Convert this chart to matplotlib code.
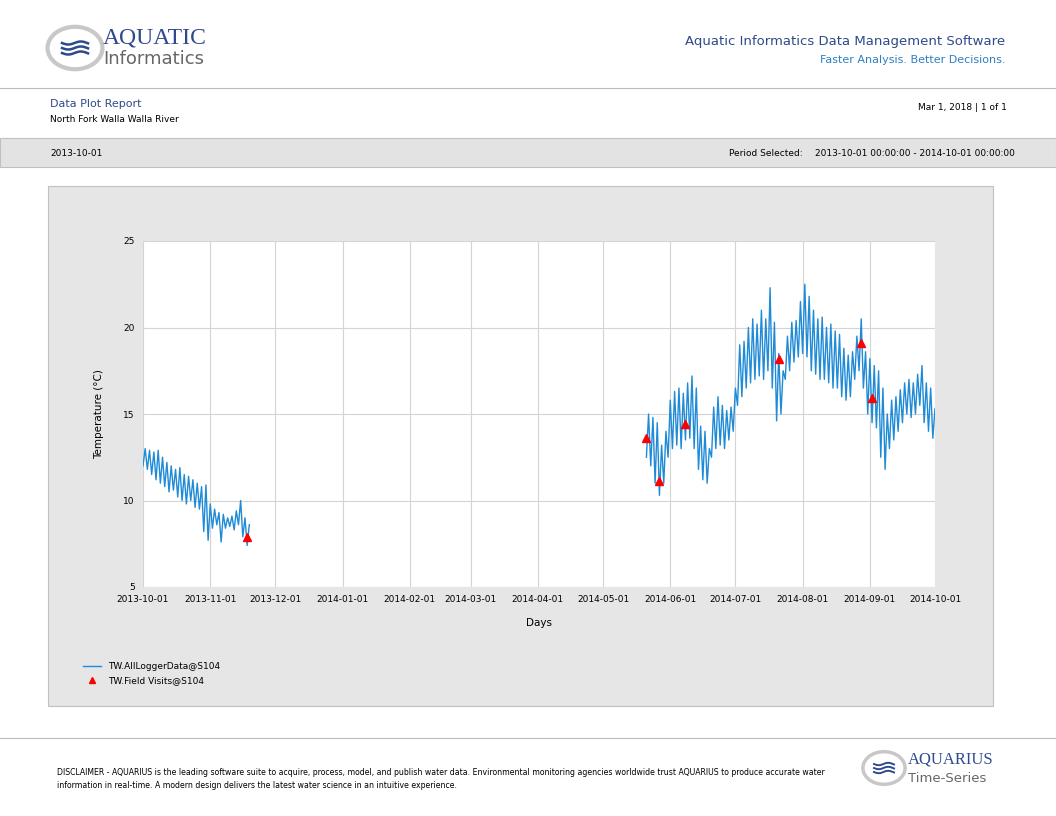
import numpy as np
import matplotlib
matplotlib.use('Agg')
import matplotlib.pyplot as plt
import matplotlib.dates as mdates
from matplotlib.patches import Rectangle, Circle
from datetime import datetime, timedelta

# logger data, one low/high pair every 2 days
start1 = datetime(2013, 10, 1)
highs1 = [13.0, 12.9, 12.8, 12.9, 12.5, 12.2, 12.0, 11.8, 11.9, 11.5, 11.4, 11.2, 11.0,
          10.8, 10.9, 9.8, 9.5, 9.3, 9.2, 9.0, 9.1, 9.4, 10.0, 9.0, 8.6]
lows1 = [12.0, 11.8, 11.5, 11.2, 11.0, 10.8, 10.5, 10.6, 10.2, 10.0, 9.8, 10.0, 9.6,
         9.5, 8.2, 7.7, 8.4, 8.6, 7.6, 8.4, 8.5, 8.3, 8.6, 7.9, 7.4]
start2 = datetime(2014, 5, 21)
highs2 = [15.0, 14.8, 14.5, 13.2, 14.0, 15.8,
          16.3, 16.5, 16.2, 16.8, 17.2, 16.5, 14.3, 14.0, 13.0, 15.4, 16.0, 15.5, 15.2, 15.4, 16.5,
          19.0, 19.2, 20.0, 20.5, 20.2, 21.0, 20.5, 22.3, 20.3, 18.5, 17.5, 19.5, 20.3, 20.4, 21.5,
          22.5, 21.8, 21.0, 20.5, 20.6, 20.0, 20.2, 19.8, 19.6, 18.8, 18.4, 18.6, 19.5, 20.5, 18.6, 18.2,
          17.8, 17.5, 16.5, 15.0, 15.8, 16.0, 16.4, 16.8, 17.0, 16.8, 17.3, 17.8, 16.8, 16.5, 15.3]
lows2 = [12.5, 12.0, 11.0, 10.3, 11.0, 12.5,
         13.0, 13.2, 13.0, 13.5, 13.6, 13.0, 11.8, 11.2, 11.0, 12.5, 13.0, 13.2, 13.0, 13.5, 14.0,
         15.5, 16.0, 16.5, 16.8, 17.0, 17.2, 17.0, 17.5, 16.5, 14.6, 15.0, 17.0, 17.5, 18.0, 18.3,
         18.5, 18.3, 17.5, 17.3, 17.0, 17.0, 16.8, 16.5, 16.5, 16.0, 15.8, 16.0, 17.0, 17.5, 16.5, 15.0,
         14.5, 14.2, 12.5, 11.8, 13.0, 13.5, 14.0, 14.5, 15.0, 14.8, 15.0, 15.5, 14.5, 14.0, 13.6]
visit_dates = ['2013-11-18', '2014-05-21', '2014-05-27', '2014-06-08', '2014-07-21', '2014-08-28', '2014-09-02']
visit_vals = [7.9, 13.6, 11.1, 14.4, 18.2, 19.1, 15.9]


def zigzag(start, lows, highs):
    t, v = [], []
    for i, (lo, hi) in enumerate(zip(lows, highs)):
        d = start + timedelta(days=2 * i)
        t += [d, d + timedelta(days=1)]
        v += [lo, hi]
    return t, v


W, H = 1056, 816
fig = plt.figure(figsize=(W / 100, H / 100), dpi=100)
plt.rcParams['font.family'] = 'DejaVu Sans'


def fx(x):
    return x / W


def fy(y):
    return 1 - y / H


def frect(x0, y0, x1, y1, **kw):
    fig.add_artist(Rectangle((fx(x0), fy(y1)), fx(x1) - fx(x0), fy(y0) - fy(y1),
                             transform=fig.transFigure, zorder=-1, **kw))


# header
blue = '#2e4a8c'
fig.add_artist(Circle((fx(75), fy(48)), 0.026, transform=fig.transFigure, fc='white', ec='#c8c8c8', lw=3))
for dy in (-5, 0, 5):
    xs = np.linspace(62, 88, 40)
    fig.add_artist(plt.Line2D(fx(xs), fy(48 + dy + 1.5 * np.sin((xs - 62) / 4.0)),
                              transform=fig.transFigure, color='#2e4a8c', lw=1.8))
fig.text(fx(103), fy(38), 'AQUATIC', fontsize=17, color=blue, family='Liberation Serif', va='center')
fig.text(fx(103), fy(59), 'Informatics', fontsize=13, color='#666666', va='center')
fig.text(fx(1005), fy(41), 'Aquatic Informatics Data Management Software', fontsize=9.5, color=blue, ha='right', va='center')
fig.text(fx(1005), fy(60), 'Faster Analysis. Better Decisions.', fontsize=8, color='#2f7fc1', ha='right', va='center')
fig.add_artist(plt.Line2D([0, 1], [fy(88), fy(88)], transform=fig.transFigure, color='#bbbbbb', lw=0.8))
fig.text(fx(50), fy(104), 'Data Plot Report', fontsize=8, color=blue, va='center')
fig.text(fx(50), fy(119), 'North Fork Walla Walla River', fontsize=6.5, va='center')
fig.text(fx(1007), fy(107), 'Mar 1, 2018 | 1 of 1', fontsize=6.5, ha='right', va='center')
frect(0, 138, W, 167, fc='#e3e3e3', ec='#c0c0c0', lw=0.8)
fig.text(fx(50), fy(153), '2013-10-01', fontsize=6.5, va='center')
fig.text(fx(803), fy(153), 'Period Selected:', fontsize=6.5, ha='right', va='center')
fig.text(fx(1015), fy(153), '2013-10-01 00:00:00 - 2014-10-01 00:00:00', fontsize=6.5, ha='right', va='center')

# chart panel
frect(48, 186, 993, 706, fc='#e6e6e6', ec='#c0c0c0', lw=0.8)
ax = fig.add_axes([fx(143), fy(587), fx(935) - fx(143), fy(241) - fy(587)])
ax.set_facecolor('white')
t1, v1 = zigzag(start1, lows1, highs1)
t2, v2 = zigzag(start2, lows2, highs2)
ax.plot(t1, v1, color='#1f8ad6', lw=1.0, label='TW.AllLoggerData@S104')
ax.plot(t2, v2, color='#1f8ad6', lw=1.0)
ax.plot([datetime.strptime(d, '%Y-%m-%d') for d in visit_dates], visit_vals, '^', color='red', ms=6,
        ls='none', label='TW.Field Visits@S104')
ax.set_xlim(datetime(2013, 10, 1), datetime(2014, 10, 1))
ax.set_ylim(5, 25)
ax.set_yticks([5, 10, 15, 20, 25])
ax.xaxis.set_major_locator(mdates.MonthLocator())
ax.xaxis.set_major_formatter(mdates.DateFormatter('%Y-%m-%d'))
ax.grid(True, color='#d4d4d4', lw=0.8)
ax.set_axisbelow(True)
for s in ax.spines.values():
    s.set_visible(False)
ax.tick_params(length=0, labelsize=6.5, pad=6)
ax.set_xlabel('Days', fontsize=7.5, labelpad=10)
ax.set_ylabel('Temperature (°C)', fontsize=7.5, labelpad=14)
ax.legend(loc='upper left', bbox_to_anchor=(fx(75), fy(654)), bbox_transform=fig.transFigure,
          frameon=False, fontsize=6.5, handlelength=2, markerscale=0.7, labelspacing=0.6)

# footer
fig.add_artist(plt.Line2D([0, 1], [fy(738), fy(738)], transform=fig.transFigure, color='#bbbbbb', lw=0.8))
fig.text(fx(57), fy(779), 'DISCLAIMER - AQUARIUS is the leading software suite to acquire, process, model, and publish water data. '
         'Environmental monitoring agencies worldwide trust AQUARIUS to produce accurate water\n'
         'information in real-time. A modern design delivers the latest water science in an intuitive experience.',
         fontsize=5.6, va='center', linespacing=1.6)
fig.add_artist(Circle((fx(884), fy(768)), 0.02, transform=fig.transFigure, fc='white', ec='#c8c8c8', lw=2.5))
for dy in (-4, 0, 4):
    xs = np.linspace(874, 894, 30)
    fig.add_artist(plt.Line2D(fx(xs), fy(768 + dy + 1.2 * np.sin((xs - 874) / 3.0)),
                              transform=fig.transFigure, color='#2e4a8c', lw=1.4))
fig.text(fx(908), fy(760), 'AQUARIUS', fontsize=12, color=blue, family='Liberation Serif', va='center')
fig.text(fx(908), fy(778), 'Time-Series', fontsize=9.5, color='#666666', va='center')

fig.savefig('out.png', dpi=100)
